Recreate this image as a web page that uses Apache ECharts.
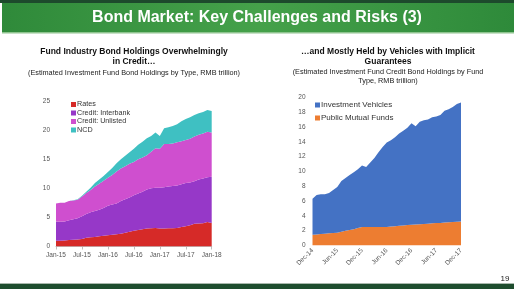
<!DOCTYPE html>
<html><head><meta charset="utf-8">
<script src="https://cdn.jsdelivr.net/npm/echarts@6/dist/echarts.min.js"></script>
<style>html,body{margin:0;padding:0;background:#fff;}#c{width:514px;height:292px;}</style>
</head><body><div id="c"></div>
<script>
// ---- Left chart data (RMB trillion) ----
const leftCategories = ["Jan-15","Feb-15","Mar-15","Apr-15","May-15","Jun-15","Jul-15","Aug-15","Sep-15","Oct-15","Nov-15","Dec-15",
"Jan-16","Feb-16","Mar-16","Apr-16","May-16","Jun-16","Jul-16","Aug-16","Sep-16","Oct-16","Nov-16","Dec-16",
"Jan-17","Feb-17","Mar-17","Apr-17","May-17","Jun-17","Jul-17","Aug-17","Sep-17","Oct-17","Nov-17","Dec-17","Jan-18"];
const rates = [1.0,1.0,1.05,1.1,1.15,1.2,1.3,1.5,1.6,1.65,1.75,1.85,1.95,2.0,2.1,2.2,2.35,2.55,2.7,2.85,2.95,3.1,3.15,3.2,3.1,3.1,3.15,3.15,3.2,3.35,3.5,3.65,3.9,3.95,4.0,4.2,4.05];
const creditInterbank = [3.3,3.25,3.25,3.4,3.55,3.65,3.9,4.1,4.3,4.45,4.55,4.75,5.05,5.2,5.3,5.6,5.75,5.85,6.1,6.25,6.45,6.7,6.85,6.9,7.0,7.1,7.15,7.25,7.3,7.35,7.4,7.35,7.3,7.55,7.7,7.7,7.95];
const creditUnlisted = [3.1,3.25,3.2,3.3,3.2,3.2,3.4,3.6,3.8,4.2,4.5,4.7,4.8,5.1,5.5,5.6,5.7,5.8,5.7,5.9,5.9,5.9,6.3,6.8,6.7,7.4,7.3,7.3,7.4,7.4,7.4,7.5,7.7,7.7,7.7,7.8,7.6];
const ncd = [0,0,0,0,0.05,0.05,0.1,0.2,0.4,0.6,0.7,0.8,1.0,1.2,1.4,1.6,1.8,2.0,2.3,2.5,2.7,2.9,2.7,2.7,2.2,2.7,2.9,3.0,3.1,3.4,3.6,3.7,3.7,3.7,3.7,3.75,3.7];
const leftYTicks = [0,5,10,15,20,25];

// ---- Right chart data (RMB trillion) ----
const rightCategories = ["Dec-14","Jan-15","Feb-15","Mar-15","Apr-15","May-15","Jun-15","Jul-15","Aug-15","Sep-15","Oct-15","Nov-15",
"Dec-15","Jan-16","Feb-16","Mar-16","Apr-16","May-16","Jun-16","Jul-16","Aug-16","Sep-16","Oct-16","Nov-16",
"Dec-16","Jan-17","Feb-17","Mar-17","Apr-17","May-17","Jun-17","Jul-17","Aug-17","Sep-17","Oct-17","Nov-17","Dec-17"];
const publicMutualFunds = [1.45,1.5,1.55,1.6,1.65,1.7,1.72,1.85,2.0,2.1,2.2,2.35,2.5,2.5,2.5,2.5,2.5,2.5,2.5,2.55,2.6,2.65,2.7,2.75,2.8,2.85,2.88,2.9,2.95,3.0,3.02,3.05,3.1,3.15,3.18,3.22,3.25];
const investmentVehicles = [4.85,5.3,5.35,5.3,5.45,5.8,6.18,6.85,7.1,7.4,7.7,7.95,8.3,8.1,8.7,9.3,10.1,10.8,11.4,11.65,12.0,12.45,12.8,13.15,13.7,13.25,13.82,14.0,14.05,14.3,14.38,14.55,15.1,15.25,15.52,15.88,16.05];
const rightYTicks = [0,2,4,6,8,10,12,14,16,18,20];

const FONT = '"Liberation Sans", Arial, sans-serif';
const chart = echarts.init(document.getElementById('c'), null, {renderer:'canvas', width:514, height:292});

function area(name, data, color, xi, stack) {
  return {name, type:'line', data, xAxisIndex:xi, yAxisIndex:xi, stack, symbol:'none',
    lineStyle:{width:0}, areaStyle:{color, opacity:1}, itemStyle:{color}, silent:true};
}

chart.setOption({
  animation:false,
  textStyle:{fontFamily:FONT},
  graphic:[
    {type:'rect', shape:{x:0,y:0,width:514,height:3}, style:{fill:'#1d4a2c'}},
    {type:'rect', shape:{x:2,y:3,width:512,height:29}, style:{fill:new echarts.graphic.LinearGradient(0,0,1,0,[
      {offset:0,color:'#2f8a3a'},{offset:0.5,color:'#45a14a'},{offset:1,color:'#2e8a3a'}])}},
    {type:'rect', shape:{x:2,y:32,width:512,height:1.5}, style:{fill:'#8fc48f'}},
    {type:'text', x:257, y:18, style:{text:'Bond Market: Key Challenges and Risks (3)', fill:'#ffffff',
      font:'bold 16px '+FONT, textAlign:'center', textVerticalAlign:'middle'}},
    {type:'rect', shape:{x:0,y:283,width:514,height:1}, style:{fill:'#a9b9ad'}},
    {type:'rect', shape:{x:0,y:284,width:514,height:5}, style:{fill:'#1e4d2e'}},
    {type:'text', x:505, y:279, style:{text:'19', fill:'#222', font:'8px '+FONT, textAlign:'center', textVerticalAlign:'middle'}}
  ],
  title:[
    {text:'Fund Industry Bond Holdings Overwhelmingly\nin Credit\u2026', left:129, top:42, textAlign:'center',
      textStyle:{fontSize:8.5, fontWeight:'bold', color:'#111', lineHeight:10, fontFamily:FONT}},
    {text:'(Estimated Investment Fund Bond Holdings by Type, RMB trillion)', left:129, top:63, textAlign:'center',
      textStyle:{fontSize:7.3, fontWeight:'normal', color:'#222', lineHeight:9, fontFamily:FONT}},
    {text:'\u2026and Mostly Held by Vehicles with Implicit\nGuarantees', left:383, top:42, textAlign:'center',
      textStyle:{fontSize:8.5, fontWeight:'bold', color:'#111', lineHeight:10, fontFamily:FONT}},
    {text:'(Estimated Investment Fund Credit Bond Holdings by Fund\nType, RMB trillion)', left:383, top:62, textAlign:'center',
      textStyle:{fontSize:7.3, fontWeight:'normal', color:'#222', lineHeight:9, fontFamily:FONT}}
  ],
  legend:[
    {orient:'vertical', left:66, top:96, itemWidth:5, itemHeight:5, itemGap:1.5, icon:'rect',
      data:['Rates','Credit: Interbank','Credit: Unlisted','NCD'],
      textStyle:{fontSize:7.2, color:'#333', padding:[0,0,0,-4], fontFamily:FONT}},
    {orient:'vertical', left:310, top:96, itemWidth:5, itemHeight:5, itemGap:5, icon:'rect',
      data:['Investment Vehicles','Public Mutual Funds'],
      textStyle:{fontSize:8, color:'#333', padding:[0,0,0,-4], fontFamily:FONT}}
  ],
  grid:[
    {left:56, top:101, width:155.7, height:145.5},
    {left:312.5, top:97.3, width:148.5, height:148.2}
  ],
  xAxis:[
    {type:'category', gridIndex:0, data:leftCategories, boundaryGap:false,
      axisLine:{lineStyle:{color:'#bfbfbf', width:1}},
      axisTick:{interval:5, length:3, lineStyle:{color:'#bfbfbf'}},
      axisLabel:{interval:5, fontSize:6.5, color:'#555', margin:5, fontFamily:FONT}},
    {type:'category', gridIndex:1, data:rightCategories, boundaryGap:false,
      axisLine:{show:false}, axisTick:{show:false},
      axisLabel:{interval:5, rotate:45, fontSize:6.5, color:'#555', margin:4, fontFamily:FONT}}
  ],
  yAxis:[
    {type:'value', gridIndex:0, min:leftYTicks[0], max:leftYTicks[leftYTicks.length-1], interval:5,
      axisLine:{show:false}, axisTick:{show:false}, splitLine:{show:false},
      axisLabel:{fontSize:6.5, color:'#555', margin:6, fontFamily:FONT}},
    {type:'value', gridIndex:1, min:rightYTicks[0], max:rightYTicks[rightYTicks.length-1], interval:2,
      axisLine:{show:false}, axisTick:{show:false}, splitLine:{show:false},
      axisLabel:{fontSize:6.5, color:'#555', margin:7, fontFamily:FONT}}
  ],
  series:[
    area('Rates', rates, '#d62a28', 0, 'L'),
    area('Credit: Interbank', creditInterbank, '#9638c8', 0, 'L'),
    area('Credit: Unlisted', creditUnlisted, '#cf4fcf', 0, 'L'),
    area('NCD', ncd, '#3fc0c2', 0, 'L'),
    area('Public Mutual Funds', publicMutualFunds, '#ed7d31', 1, 'R'),
    area('Investment Vehicles', investmentVehicles, '#4472c4', 1, 'R')
  ]
});
</script></body></html>
